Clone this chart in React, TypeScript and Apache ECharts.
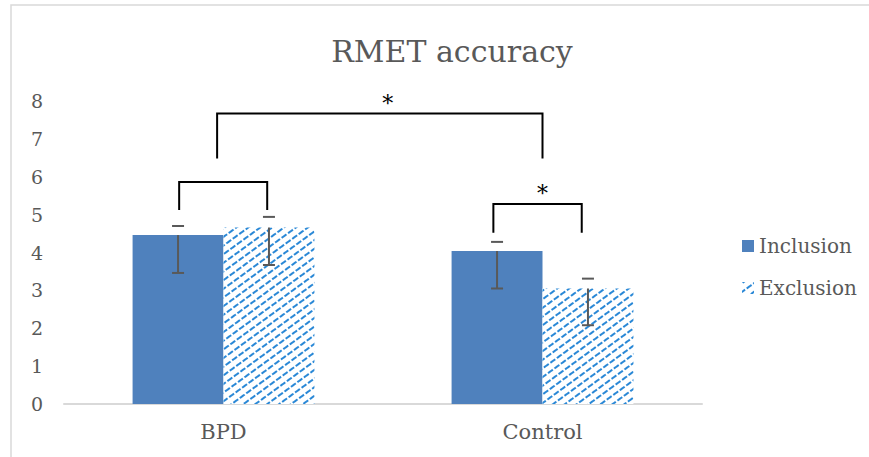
import React, { useEffect, useRef } from "react";
import * as echarts from "echarts";

const categories = ["BPD", "Control"];
const seriesNames = ["Inclusion", "Exclusion"];
const inclusionValues = [4.46, 4.04];
const exclusionValues = [4.66, 3.05];
const inclusionUpperCap = [4.7, 4.28];
const inclusionLower = [3.46, 3.05];
const exclusionUpperCap = [4.94, 3.31];
const exclusionLower = [3.67, 2.08];
const yMin = 0;
const yMax = 8;
const yInterval = 1;
// significance brackets: [xStart, xEnd] in category units, leg bottom, top
const bracketStart = [-0.139, -0.02, 0.846];
const bracketEnd = [0.137, 1.0, 1.123];
const bracketBottom = [5.12, 6.48, 4.52];
const bracketTop = [5.86, 7.67, 5.28];
// stars: x in category units, y value
const starX = [0.515, 1.0];
const starY = [8.07, 5.69];
const starText = ["*", "*"];

const GAP = 0.43;
const FONT = "DejaVu Serif";
const TEXT = "#595959";

export default function App() {
  const ref = useRef<HTMLDivElement>(null);
  useEffect(() => {
    if (!ref.current) return;
    const chart = echarts.init(ref.current, undefined, { renderer: "svg" });

    const errData: number[][] = [];
    for (let i = 0; i < categories.length; i++) {
      errData.push([i, 0, inclusionValues[i], inclusionUpperCap[i], inclusionLower[i]]);
      errData.push([i, 1, exclusionValues[i], exclusionUpperCap[i], exclusionLower[i]]);
    }
    const bracketData = bracketStart.map((s, i) => [0, bracketTop[i], s, bracketEnd[i], bracketBottom[i]]);
    const starData = starX.map((s, i) => [0, starY[i], s, i]);

    const lineStyle = (color: string) => ({ stroke: color, lineWidth: 2, fill: "none" });

    chart.setOption({
      animation: false,
      backgroundColor: "#ffffff",
      textStyle: { fontFamily: FONT },
      title: {
        text: "RMET accuracy",
        left: 447,
        top: 31,
        textAlign: "center",
        textStyle: { fontFamily: FONT, fontSize: 30, fontWeight: "normal", color: TEXT },
      },
      legend: {
        data: seriesNames,
        orient: "vertical",
        left: 737,
        top: 231,
        itemWidth: 12,
        itemHeight: 12,
        itemGap: 22,
        icon: "rect",
        textStyle: { fontFamily: FONT, fontSize: 20, color: TEXT },
      },
      grid: { left: 64, right: 167, top: 101, bottom: 53, containLabel: false },
      xAxis: {
        type: "category",
        data: categories,
        axisLine: { lineStyle: { color: "#d9d9d9", width: 2 } },
        axisTick: { show: false },
        axisLabel: { fontFamily: FONT, fontSize: 21, color: TEXT, margin: 17 },
      },
      yAxis: {
        type: "value",
        min: yMin,
        max: yMax,
        interval: yInterval,
        axisLine: { show: false },
        axisTick: { show: false },
        splitLine: { show: false },
        axisLabel: { fontFamily: FONT, fontSize: 19, color: TEXT, margin: 21 },
      },
      graphic: [
        {
          type: "rect",
          shape: { x: 11, y: 5, width: 900, height: 500 },
          style: { fill: "none", stroke: "#d9d9d9", lineWidth: 1.5 },
          silent: true,
          z: -10,
        },
      ],
      series: [
        {
          name: "Inclusion",
          type: "bar",
          data: inclusionValues,
          barGap: "0%",
          barCategoryGap: GAP * 100 + "%",
          itemStyle: { color: "#4f81bd" },
        },
        {
          name: "Exclusion",
          type: "bar",
          data: exclusionValues,
          barGap: "0%",
          barCategoryGap: GAP * 100 + "%",
          itemStyle: {
            color: "#ffffff",
            decal: {
              symbol: "rect",
              symbolSize: 1,
              color: "#2a88d6",
              dashArrayX: [6, 2],
              dashArrayY: [2, 5],
              rotation: -Math.PI / 5,
            },
          },
        },
        {
          type: "custom",
          name: "err",
          data: errData,
          encode: { x: 0, y: 2 },
          z: 5,
          silent: true,
          renderItem: (params: any, api: any) => {
            const cat = api.value(0);
            const sIdx = api.value(1);
            const val = api.value(2);
            const up = api.value(3);
            const low = api.value(4);
            const band = api.size([1, 0])[0];
            const off = ((band * (1 - GAP)) / 4) * (sIdx === 0 ? -1 : 1);
            const p = api.coord([cat, val]);
            const x = p[0] + off;
            const yv = p[1];
            const yu = api.coord([cat, up])[1];
            const yl = api.coord([cat, low])[1];
            const hw = 6;
            const st = lineStyle("#595959");
            return {
              type: "group",
              children: [
                { type: "line", shape: { x1: x - hw, y1: yu, x2: x + hw, y2: yu }, style: st },
                { type: "line", shape: { x1: x, y1: yv, x2: x, y2: yl }, style: st },
                { type: "line", shape: { x1: x - hw, y1: yl, x2: x + hw, y2: yl }, style: st },
              ],
            };
          },
        },
        {
          type: "custom",
          name: "brackets",
          data: bracketData,
          encode: { x: 0, y: 1 },
          z: 5,
          silent: true,
          renderItem: (params: any, api: any) => {
            const top = api.value(1);
            const s = api.value(2);
            const e = api.value(3);
            const bot = api.value(4);
            const band = api.size([1, 0])[0];
            const base = api.coord([0, top]);
            const yt = base[1];
            const yb = api.coord([0, bot])[1];
            const x1 = base[0] + s * band;
            const x2 = base[0] + e * band;
            return {
              type: "polyline",
              shape: { points: [[x1, yb], [x1, yt], [x2, yt], [x2, yb]] },
              style: lineStyle("#000000"),
            };
          },
        },
        {
          type: "custom",
          name: "stars",
          data: starData,
          encode: { x: 0, y: 1 },
          z: 5,
          silent: true,
          renderItem: (params: any, api: any) => {
            const y = api.value(1);
            const s = api.value(2);
            const idx = api.value(3);
            const band = api.size([1, 0])[0];
            const base = api.coord([0, y]);
            return {
              type: "text",
              x: base[0] + s * band,
              y: base[1] + 5,
              style: {
                text: starText[idx],
                fontFamily: FONT,
                fontSize: 22,
                fill: "#000000",
                align: "center",
                verticalAlign: "middle",
              },
            };
          },
        },
      ],
    });
    return () => chart.dispose();
  }, []);
  return (
    <div
      ref={ref}
      style={{ position: "absolute", left: 0, top: 0, width: 869, height: 457 }}
    />
  );
}
